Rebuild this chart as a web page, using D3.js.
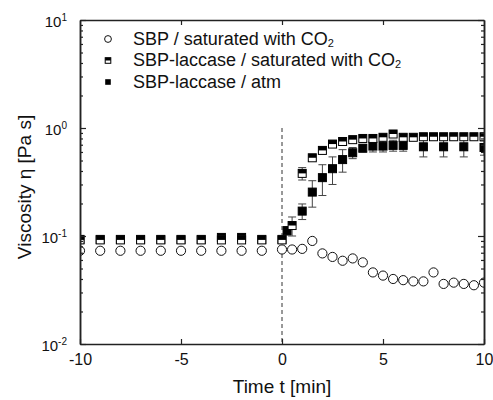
<!DOCTYPE html>
<html>
<head>
<meta charset="utf-8">
<script src="https://cdn.jsdelivr.net/npm/d3@7"></script>
<style>
  body { margin: 0; background: #fff; }
  svg { font-family: "Liberation Sans", Arial, sans-serif; }
</style>
</head>
<body>
<div id="chart"></div>
<script>
// Chart size
var svgWidth = 493;
var svgHeight = 400;
var margin = { top: 20, right: 9, bottom: 56, left: 80 };
var chartWidth = svgWidth - margin.left - margin.right;
var chartHeight = svgHeight - margin.top - margin.bottom;

// Data (time in min, viscosity in Pa s)
var sbpTime = [-10, -9, -8, -7, -6, -5, -4, -3, -2, -1,
  0, 0.5, 1, 1.5, 2, 2.5, 3, 3.5, 4, 4.5, 5, 5.5, 6, 6.5, 7, 7.5, 8, 8.5, 9, 9.5, 10];
var sbpVisc = [0.073, 0.073, 0.073, 0.073, 0.073, 0.073, 0.073, 0.073, 0.073, 0.073,
  0.075, 0.075, 0.076, 0.090, 0.069, 0.064, 0.059, 0.062, 0.057, 0.046, 0.043,
  0.040, 0.039, 0.038, 0.038, 0.046, 0.036, 0.037, 0.036, 0.035, 0.037];

var lacCo2Time = [-10, -9, -8, -7, -6, -5, -4, -3, -2, -1,
  0, 0.5, 1, 1.5, 2, 2.5, 3, 3.5, 4, 4.5, 5, 5.5, 6, 6.5, 7, 7.5, 8, 8.5, 9, 9.5, 10];
var lacCo2Visc = [0.092, 0.092, 0.092, 0.092, 0.092, 0.092, 0.092, 0.092, 0.092, 0.092,
  0.092, 0.125, 0.38, 0.53, 0.62, 0.71, 0.75, 0.78, 0.80, 0.80, 0.82,
  0.88, 0.82, 0.82, 0.83, 0.83, 0.83, 0.83, 0.83, 0.83, 0.83];
var lacCo2Err = [0, 0, 0, 0, 0, 0, 0, 0, 0, 0,
  0, 0.025, 0.05, 0.03, 0.03, 0.03, 0.04, 0.04, 0.05, 0.05, 0.05,
  0.05, 0.05, 0.05, 0.05, 0.05, 0.05, 0.05, 0.05, 0.05, 0.05];

var lacAtmTime = [-10, -9, -8, -7, -6, -5, -4, -3, -2, -1,
  0, 0.25, 1, 1.5, 2, 2.5, 3, 3.5, 4, 4.5, 5, 5.5, 6, 7, 8, 9, 10];
var lacAtmVisc = [0.093, 0.093, 0.093, 0.093, 0.093, 0.093, 0.093, 0.097, 0.097, 0.093,
  0.093, 0.112, 0.17, 0.255, 0.347, 0.42, 0.51, 0.59, 0.65, 0.68, 0.68,
  0.69, 0.69, 0.67, 0.67, 0.67, 0.66];
var lacAtmErr = [0, 0, 0, 0, 0, 0, 0, 0, 0, 0,
  0, 0.01, 0.028, 0.07, 0.11, 0.12, 0.12, 0.07, 0.05, 0.08, 0.08,
  0.08, 0.08, 0.13, 0.13, 0.13, 0.10];

var xTicks = [-10, -5, 0, 5, 10];
var yTicks = [0.01, 0.1, 1, 10];
var yExponents = ["-2", "-1", "0", "1"];

var legendLabels = ["SBP / saturated with CO", "SBP-laccase / saturated with CO", "SBP-laccase / atm"];
var legendSubs = ["2", "2", ""];

// Build point lists
function makePoints(ts, vs, es) {
  return ts.map(function(t, i) { return { t: t, v: vs[i], e: es ? es[i] : 0 }; });
}
var sbpData = makePoints(sbpTime, sbpVisc);
var lacCo2Data = makePoints(lacCo2Time, lacCo2Visc, lacCo2Err);
var lacAtmData = makePoints(lacAtmTime, lacAtmVisc, lacAtmErr);

var svg = d3.select("#chart")
  .append("svg")
  .attr("width", svgWidth)
  .attr("height", svgHeight);

var chartGroup = svg.append("g")
  .attr("transform", `translate(${margin.left}, ${margin.top})`);

// Scales
var xScale = d3.scaleLinear().domain([-10, 10]).range([0, chartWidth]);
var yScale = d3.scaleLog().domain([0.01, 10]).range([chartHeight, 0]);

// Minor ticks of the log axis
var yMinor = [];
[0.01, 0.1, 1].forEach(function(dec) {
  for (var k = 2; k <= 9; k++) yMinor.push(dec * k);
});

// Clip the markers to the plot box
svg.append("defs").append("clipPath").attr("id", "plotClip")
  .append("rect").attr("width", chartWidth).attr("height", chartHeight);

// Dashed line at t = 0 (starts below the legend)
chartGroup.append("line")
  .attr("x1", xScale(0)).attr("x2", xScale(0))
  .attr("y1", yScale(1)).attr("y2", chartHeight)
  .attr("stroke", "#333").attr("stroke-width", 1)
  .attr("stroke-dasharray", "4,3");

var plot = chartGroup.append("g").attr("clip-path", "url(#plotClip)");

// Error bars
function drawErrors(data) {
  var g = plot.append("g").attr("stroke", "#444").attr("stroke-width", 1);
  data.filter(function(d) { return d.e > 0; }).forEach(function(d) {
    var x = xScale(d.t);
    var y1 = yScale(d.v - d.e), y2 = yScale(d.v + d.e);
    g.append("line").attr("x1", x).attr("x2", x).attr("y1", y1).attr("y2", y2);
    g.append("line").attr("x1", x - 4).attr("x2", x + 4).attr("y1", y1).attr("y2", y1);
    g.append("line").attr("x1", x - 4).attr("x2", x + 4).attr("y1", y2).attr("y2", y2);
  });
}
drawErrors(lacAtmData);
drawErrors(lacCo2Data);

var sq = 8;

// SBP / CO2: open circles
plot.append("g").selectAll("circle")
  .data(sbpData).enter().append("circle")
  .attr("cx", d => xScale(d.t))
  .attr("cy", d => yScale(d.v))
  .attr("r", 4.6)
  .attr("fill", "white").attr("stroke", "#111").attr("stroke-width", 1);

// SBP-laccase / atm: filled squares
plot.append("g").selectAll("rect")
  .data(lacAtmData).enter().append("rect")
  .attr("x", d => xScale(d.t) - sq / 2)
  .attr("y", d => yScale(d.v) - sq / 2)
  .attr("width", sq).attr("height", sq)
  .attr("fill", "#000").attr("stroke", "#000").attr("stroke-width", 1);

// SBP-laccase / CO2: half-filled squares
function halfSquare(sel, size) {
  sel.append("rect")
    .attr("x", -size / 2).attr("y", -size / 2)
    .attr("width", size).attr("height", size)
    .attr("fill", "white").attr("stroke", "#000").attr("stroke-width", 1);
  sel.append("rect")
    .attr("x", -size / 2).attr("y", -size / 2)
    .attr("width", size).attr("height", size * 0.5)
    .attr("fill", "#000");
}
plot.append("g").selectAll("g")
  .data(lacCo2Data).enter().append("g")
  .attr("transform", d => `translate(${xScale(d.t)}, ${yScale(d.v)})`)
  .call(halfSquare, sq);

// Axes
var axisColor = "#222";
function styleAxis(g) {
  g.select(".domain").attr("stroke", axisColor).attr("stroke-width", 1.5);
  g.selectAll(".tick line").attr("stroke", axisColor).attr("stroke-width", 1.2);
  g.selectAll("text").attr("fill", "#111");
}

var bottomAxis = d3.axisBottom(xScale).tickValues(xTicks)
  .tickSizeInner(-5).tickSizeOuter(0).tickPadding(10)
  .tickFormat(d => String(d));
chartGroup.append("g")
  .attr("transform", `translate(0, ${chartHeight})`)
  .call(bottomAxis)
  .call(styleAxis)
  .selectAll("text").attr("font-size", "16px");

chartGroup.append("g")
  .call(d3.axisTop(xScale).tickValues([-5, 0, 5]).tickSizeInner(-5).tickSizeOuter(0).tickFormat(""))
  .call(styleAxis);

var leftAxis = d3.axisLeft(yScale).tickValues(yTicks)
  .tickSizeInner(-6).tickSizeOuter(0).tickPadding(13)
  .tickFormat("");
var leftG = chartGroup.append("g").call(leftAxis).call(styleAxis);
leftG.selectAll(".tick text").each(function(d, i) {
  var t = d3.select(this).attr("font-size", "15px").attr("dy", "0.42em");
  t.append("tspan").text("10");
  t.append("tspan").attr("dy", "-0.55em").attr("font-size", "10px").text(yExponents[i]);
});
chartGroup.append("g")
  .call(d3.axisLeft(yScale).tickValues(yMinor).tickSizeInner(-3).tickSizeOuter(0).tickFormat(""))
  .call(styleAxis);

chartGroup.append("g")
  .attr("transform", `translate(${chartWidth}, 0)`)
  .call(d3.axisRight(yScale).tickValues(yTicks).tickSizeInner(-6).tickSizeOuter(0).tickFormat(""))
  .call(styleAxis);
chartGroup.append("g")
  .attr("transform", `translate(${chartWidth}, 0)`)
  .call(d3.axisRight(yScale).tickValues(yMinor).tickSizeInner(-3).tickSizeOuter(0).tickFormat(""))
  .call(styleAxis);

// Axis titles
chartGroup.append("text")
  .attr("x", xScale(0)).attr("y", chartHeight + 49)
  .attr("text-anchor", "middle")
  .attr("font-size", "19px").attr("fill", "#111")
  .text("Time t [min]");

chartGroup.append("text")
  .attr("transform", "rotate(-90)")
  .attr("x", -(chartHeight / 2) - 5).attr("y", -49)
  .attr("text-anchor", "middle")
  .attr("font-size", "19px").attr("fill", "#111")
  .text("Viscosity η [Pa s]");

// Legend
var legend = svg.append("g");
var legendY = [44.5, 66, 87.5];
legendLabels.forEach(function(label, i) {
  var row = legend.append("g").attr("transform", `translate(108, ${legendY[i] - 5.5})`);
  if (i === 0) {
    row.append("circle").attr("r", 3.4)
      .attr("fill", "white").attr("stroke", "#111").attr("stroke-width", 1);
  } else if (i === 1) {
    row.call(halfSquare, 5.6);
  } else {
    row.append("rect").attr("x", -2.8).attr("y", -2.8)
      .attr("width", 5.6).attr("height", 5.6).attr("fill", "#000");
  }
  var txt = legend.append("text")
    .attr("x", 133).attr("y", legendY[i])
    .attr("font-size", "18px").attr("fill", "#111");
  txt.append("tspan").text(label);
  if (legendSubs[i]) {
    txt.append("tspan").attr("dy", "0.22em").attr("font-size", "11px").text(legendSubs[i]);
  }
});
</script>
</body>
</html>
